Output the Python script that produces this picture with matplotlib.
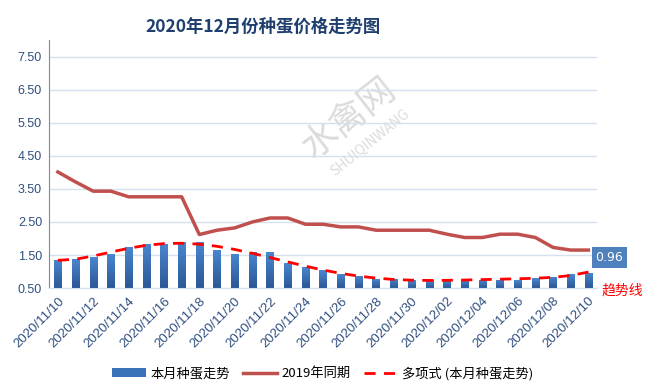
import matplotlib.pyplot as plt
import numpy as np
import datetime as dt
from matplotlib.colors import LinearSegmentedColormap

plt.rcParams['font.family'] = ['Noto Sans CJK SC', 'DejaVu Sans']

# data
start = dt.date(2020, 11, 10)
dates = [start + dt.timedelta(days=i) for i in range(31)]
labels = [d.strftime('%Y/%m/%d') for d in dates]
this_month = [1.35, 1.38, 1.45, 1.53, 1.75, 1.83, 1.83, 1.90, 1.90, 1.65,
              1.53, 1.59, 1.59, 1.25, 1.15, 1.04, 0.94, 0.86, 0.78, 0.78,
              0.74, 0.74, 0.74, 0.76, 0.76, 0.76, 0.74, 0.80, 0.84, 0.92, 0.96]
last_year = [4.01, 3.71, 3.43, 3.43, 3.26, 3.26, 3.26, 3.26, 2.12, 2.25,
             2.32, 2.50, 2.62, 2.62, 2.43, 2.43, 2.35, 2.35, 2.25, 2.25,
             2.25, 2.25, 2.13, 2.03, 2.03, 2.13, 2.13, 2.03, 1.73, 1.65, 1.65]
yticks = [0.5, 1.5, 2.5, 3.5, 4.5, 5.5, 6.5, 7.5]

x = np.arange(len(labels))
# polynomial trendline of this month's series (Excel style, order 6)
coef = np.polyfit(x, this_month, 6)
trend = np.polyval(coef, x)

fig = plt.figure(figsize=(6.45, 3.92), dpi=100)
ax = fig.add_axes([0.076, 0.265, 0.85, 0.633])

tick_color = '#2F4F7F'
bars = ax.bar(x, this_month, width=0.42, color='#3B73B9', zorder=2,
              label='本月种蛋走势')
l1, = ax.plot(x, last_year, color='#C0504D', lw=2.5, zorder=3, label='2019年同期')
l2, = ax.plot(x, trend, color='#FF0000', lw=2, ls=(0, (4, 3)), zorder=4,
              label='多项式 (本月种蛋走势)')

# gradient fill for bars
grad = np.linspace(0, 1, 100).reshape(-1, 1)
cmap = LinearSegmentedColormap.from_list('b', ['#2B5796', '#4A88D0'])
for b in bars:
    bx, bw, bh = b.get_x(), b.get_width(), b.get_height()
    im = ax.imshow(grad, cmap=cmap, origin='lower', aspect='auto',
                   extent=(bx, bx + bw, 0.5, bh), zorder=2)
    im.set_clip_path(b)

ax.set_xlim(-0.5, len(x) - 0.5)
ax.set_ylim(0.5, 8.0)
ax.set_yticks(yticks)
ax.set_yticklabels(['%.2f' % v for v in yticks], fontsize=9, color=tick_color,
                   family='Liberation Sans')
ax.set_xticks(x[::2])
ax.set_xticklabels(labels[::2], rotation=45, ha='right', rotation_mode='anchor',
                   fontsize=9.5, color=tick_color, family='Liberation Sans')
ax.tick_params(length=0, pad=5)
ax.grid(axis='y', color='#D5E1EF', lw=1, zorder=0)
for s in ['top', 'right']:
    ax.spines[s].set_visible(False)
ax.spines['left'].set_color('#888888')
ax.spines['bottom'].set_color('#D5E1EF')

# watermark
ax.text(0.548, 0.685, '水禽网', transform=ax.transAxes, rotation=38, fontsize=26,
        color='#C4C4C4', alpha=0.6, ha='center', va='center', zorder=1)
ax.text(0.585, 0.585, 'SHUIQINWANG', transform=ax.transAxes, rotation=39,
        fontsize=10, color='#C4C4C4', alpha=0.6, ha='center', va='center',
        zorder=1)

# last value label and trend note
ax.annotate('%.2f' % this_month[-1], xy=(x[-1], this_month[-1]),
            xytext=(5, 11), textcoords='offset points', fontsize=9,
            color='white', family='DejaVu Sans', va='center',
            bbox=dict(boxstyle='square,pad=0.3', fc='#4F81BD', ec='none'))
fig.text(0.965, 0.26, '趋势线', color='#FF0000', fontsize=10,
         ha='center', va='center')

fig.suptitle('2020年12月份种蛋价格走势图', x=0.408, y=0.955, fontsize=12.5,
             fontweight='bold', color='#1F3F6F')

fig.legend(handles=[bars, l1, l2], loc='lower center', bbox_to_anchor=(0.5, 0.0),
           ncol=3, frameon=False, fontsize=9.5, handlelength=2.6,
           columnspacing=1.0, handletextpad=0.3)

fig.savefig('out.png', dpi=100)
